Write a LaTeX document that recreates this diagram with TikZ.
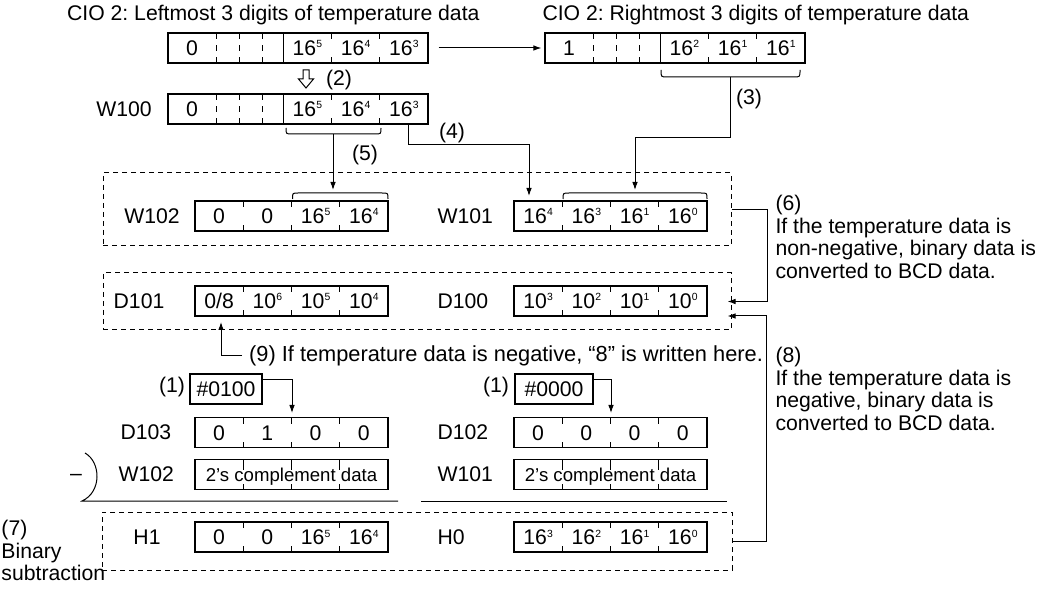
\documentclass[tikz,border=0pt]{standalone}
\usepackage{fontspec}
\setmainfont{Liberation Sans}
\usepackage{tikz}
\usetikzlibrary{arrows.meta}
\frenchspacing
\newcommand{\pw}[2]{#1\raisebox{3.8pt}{\fontsize{5.2pt}{5pt}\selectfont #2}}
\newcommand{\regc}[1]{\makebox[24.125pt]{#1}}
% short ticks, dashed and solid dividers inside a register box
\newcommand{\tk}[1][3pt]{\makebox[0pt]{\rule[\dimexpr11.3pt-#1\relax]{0.45pt}{#1}}\makebox[0pt]{\rule[-3.7pt]{0.45pt}{3pt}}}
\newcommand{\dk}{\makebox[0pt]{\rule[8.3pt]{0.45pt}{3pt}}\makebox[0pt]{\rule[2.3pt]{0.45pt}{3pt}}\makebox[0pt]{\rule[-3.7pt]{0.45pt}{3pt}}}
\newcommand{\sk}{\makebox[0pt]{\rule[-3.7pt]{0.6pt}{15pt}}}

\begin{document}
\begin{tikzpicture}[x=0.5pt,y=-0.5pt,
  font=\fontsize{10.6pt}{11pt}\selectfont,
  line width=0.5pt,
  >={Latex[length=4pt,width=2.8pt]},
  lab/.style={anchor=west,inner sep=0pt},
  note/.style={anchor=north west,inner sep=0pt,align=left,font=\fontsize{10.6pt}{11.2pt}\selectfont},
  dbox/.style={draw,dash pattern=on 2.5pt off 2pt,inner sep=0pt},
  reg/.style={draw,line width=0.6pt,inner sep=0pt,minimum width=96.5pt,minimum height=15pt,
    text height=7.6pt,text depth=0pt},
  topreg/.style={reg,minimum width=130pt},
  cmpl/.style={inner sep=0pt,text height=6.7pt,text depth=0pt,font=\fontsize{9.3pt}{10pt}\selectfont}]
\useasboundingbox (0,0) rectangle (1042,592);
% CIO 2 words
\node[anchor=east,inner sep=0pt] (tl) at (480,15) {CIO 2: Leftmost 3 digits of temperature data};
\node[lab] (tr) at (542,15) {CIO 2: Rightmost 3 digits of temperature data};
\node[topreg] (cioL) at (298,48) {\makebox[24pt]{0}\dk\hspace{11.5pt}\dk\hspace{11.5pt}\dk\hspace{10.625pt}\sk\regc{\pw{16}{5}}\tk\regc{\pw{16}{4}}\tk\regc{\pw{16}{3}}};
\node[topreg] (cioR) at (675,48) {\makebox[24pt]{1}\dk\hspace{11.5pt}\dk\hspace{11.5pt}\dk\hspace{10.625pt}\sk\regc{\pw{16}{2}}\tk\regc{\pw{16}{1}}\tk\regc{\pw{16}{1}}};
\draw[->,shorten <=5pt,shorten >=1.5pt] (cioL) -- (cioR);
% (2) W100
\draw (303,70) -- (309,70) -- (309,79) -- (313.5,79) -- (306,88) -- (298.5,79) -- (303,79) -- cycle;
\node (n2) at (339,80) {(2)};
\node (lw100) at (124,109) {W100};
\node[topreg] (w100) at (298,109) {\makebox[24pt]{0}\dk\hspace{11.5pt}\dk\hspace{11.5pt}\dk\hspace{10.625pt}\sk\regc{\pw{16}{5}}\tk\regc{\pw{16}{4}}\tk\regc{\pw{16}{3}}};
% (3) (4) (5)
\draw (286,128) .. controls (286,134) .. (292,134) -- (375,134) .. controls (381,134) .. (381,128);
\coordinate (b5) at (333,134);
\coordinate (t5) at (333,190);
\draw[->] (b5) -- (t5);
\node (n5) at (365,155) {(5)};
\coordinate (s4) at (408,124);
\coordinate (t4) at (529,196);
\draw[->] (s4) -- ++(0,21) -| (t4);
\node (n4) at (452,133) {(4)};
\draw (661,70) .. controls (661,77) .. (667,77) -- (794,77) .. controls (800,77) .. (800,70);
\coordinate (b3) at (730,77);
\coordinate (t3) at (635,190);
\draw[->] (b3) -- ++(0,61) -| (t3);
\node (n3) at (749,99) {(3)};
% W102 and W101
\node[dbox,minimum width=314pt,minimum height=36.5pt] (grpW) at (417,209.5) {};
\node (lw102) at (152,216) {W102};
\node[reg] (w102) at (291.5,216) {\regc{0}\tk\regc{0}\tk\regc{\pw{16}{5}}\tk\regc{\pw{16}{4}}};
\draw (292.5,199) .. controls (292.5,193) .. (298,193) -- (382,193) .. controls (388,193) .. (388,199);
\node[lab] (lw101) at (437,216) {W101};
\node[reg] (w101) at (610.5,216) {\regc{\pw{16}{4}}\tk\regc{\pw{16}{3}}\tk\regc{\pw{16}{1}}\tk\regc{\pw{16}{0}}};
\draw (563,199) .. controls (563,193) .. (569,193) -- (701,193) .. controls (707,193) .. (707,199);
% D101 and D100
\node[dbox,minimum width=314pt,minimum height=28.5pt] (grpD) at (417,301.5) {};
\node (ld101) at (139,301) {D101};
\node[reg] (d101) at (291.5,301) {\regc{0/8}\tk\regc{\pw{10}{6}}\tk\regc{\pw{10}{5}}\tk\regc{\pw{10}{4}}};
\node[lab] (ld100) at (437,301) {D100};
\node[reg] (d100) at (610.5,301) {\regc{\pw{10}{3}}\tk\regc{\pw{10}{2}}\tk\regc{\pw{10}{1}}\tk\regc{\pw{10}{0}}};
% (6)
\draw[->,shorten >=-2pt] (grpW.east) -- ++(36,0) |- (grpD.east);
\node[note] (n6) at (775,195) {(6)\\If the temperature data is\\non-negative, binary data is\\converted to BCD data.};
% (9)
\node[anchor=west,font=\fontsize{10.9pt}{11pt}\selectfont] (n9) at (242,356) {(9) If temperature data is negative, “8” is written here.};
\coordinate (t9) at (221,322);
\draw[->] (n9.west) -| (t9);
% (1) constants
\node (n1a) at (172,387) {(1)};
\node[draw,line width=0.6pt,minimum width=36pt,minimum height=15pt,inner sep=0pt] (c0100) at (226,389) {\#0100};
\coordinate (t1a) at (292,413);
\draw[->] ([yshift=4.5pt]c0100.east) -| (t1a);
\node (n1b) at (496,387) {(1)};
\node[draw,line width=0.6pt,minimum width=39pt,minimum height=15pt,inner sep=0pt] (c0000) at (554,389) {\#0000};
\coordinate (t1b) at (611,413);
\draw[->] ([yshift=4.5pt]c0000.east) -| (t1b);
% D103, D102, W102, W101
\node[lab] (ld103) at (120,432.5) {D103};
\node[reg] (d103) at (291.5,432.5) {\regc{0}\tk\regc{1}\tk\regc{0}\tk\regc{0}};
\node[lab] (ld102) at (437,432.5) {D102};
\node[reg] (d102) at (610.5,432.5) {\regc{0}\tk\regc{0}\tk\regc{0}\tk\regc{0}};
\node[lab] (lw102b) at (118,474.5) {W102};
\node[reg] (w102b) at (291.5,474.5) {\regc{}\tk[5pt]\regc{}\tk[5pt]\regc{}\tk[5pt]\regc{}};
\node[cmpl] (t102) at (w102b) {2’s complement data};
\node[lab] (lw101b) at (437,474.5) {W101};
\node[reg] (w101b) at (610.5,474.5) {\regc{}\tk[5pt]\regc{}\tk[5pt]\regc{}\tk[5pt]\regc{}};
\node[cmpl] (t101) at (w101b) {2’s complement data};
% (7) subtraction
\node (nmin) at (76,477) {–};
\draw (85,453) .. controls (101,462) and (102,492) .. (82,501) -- (398,501);
\draw (421,501) -- (727,501);
\node[dbox,minimum width=315pt,minimum height=29pt] (grpH) at (417,541) {};
\node (lh1) at (147,537) {H1};
\node[reg] (h1) at (291.5,537) {\regc{0}\tk\regc{0}\tk\regc{\pw{16}{5}}\tk\regc{\pw{16}{4}}};
\node[lab] (lh0) at (437,537) {H0};
\node[reg] (h0) at (610.5,537) {\regc{\pw{16}{3}}\tk\regc{\pw{16}{2}}\tk\regc{\pw{16}{1}}\tk\regc{\pw{16}{0}}};
\node[note] (n7) at (1,520) {(7)\\Binary\\subtraction};
% (8)
\draw[->,shorten >=-2pt] (grpH.east) -- ++(34,0) |- ([yshift=-7.25pt]grpD.east);
\node[note] (n8) at (775,347) {(8)\\If the temperature data is\\negative, binary data is\\converted to BCD data.};
\end{tikzpicture}
\end{document}
